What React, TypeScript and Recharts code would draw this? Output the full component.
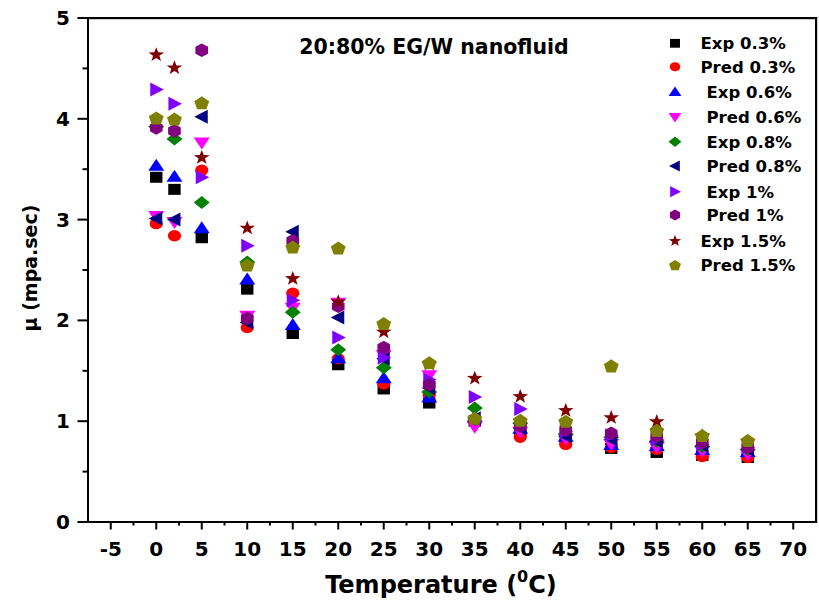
import React from 'react';
import { ScatterChart, Scatter, XAxis, YAxis } from 'recharts';

const temps = [0, 2, 5, 10, 15, 20, 25, 30, 35, 40, 45, 50, 55, 60, 65];

const exp03 = [3.42, 3.30, 2.82, 2.31, 1.87, 1.56, 1.32, 1.18, 1.00, 0.90, 0.82, 0.73, 0.69, 0.66, 0.64];
const pred03 = [2.96, 2.84, 3.49, 1.93, 2.27, 1.62, 1.37, 1.26, 1.00, 0.84, 0.77, 0.74, 0.72, 0.65, 0.64];
const exp06 = [3.54, 3.43, 2.92, 2.41, 1.96, 1.63, 1.43, 1.24, 1.05, 0.93, 0.85, 0.77, 0.76, 0.72, 0.70];
const pred06 = [3.03, 2.97, 3.76, 2.04, 2.12, 2.17, 1.65, 1.45, 0.94, 0.89, 0.82, 0.77, 0.74, 0.70, 0.67];
const exp08 = [3.92, 3.80, 3.17, 2.58, 2.08, 1.71, 1.53, 1.29, 1.13, 0.98, 0.87, 0.84, 0.80, 0.75, 0.72];
const pred08 = [3.01, 3.00, 4.02, 1.98, 2.88, 2.03, 1.62, 1.33, 1.03, 0.93, 0.85, 0.82, 0.80, 0.76, 0.72];
const exp1 = [4.29, 4.15, 3.42, 2.74, 2.20, 1.83, 1.63, 1.41, 1.24, 1.12, 0.90, 0.86, 0.82, 0.77, 0.74];
const pred1 = [3.91, 3.88, 4.68, 2.02, 2.79, 2.14, 1.73, 1.36, 1.02, 0.95, 0.91, 0.88, 0.85, 0.79, 0.74];
const exp15 = [4.64, 4.51, 3.62, 2.92, 2.42, 2.19, 1.89, 1.57, 1.43, 1.25, 1.11, 1.04, 1.00, 0.86, 0.80];
const pred15 = [4.01, 4.00, 4.16, 2.55, 2.73, 2.72, 1.97, 1.58, 1.03, 1.01, 1.00, 1.55, 0.91, 0.86, 0.81];

const xTicks = [-5, -2.5, 0, 2.5, 5, 7.5, 10, 12.5, 15, 17.5, 20, 22.5, 25, 27.5, 30, 32.5, 35, 37.5, 40, 42.5, 45, 47.5, 50, 52.5, 55, 57.5, 60, 62.5, 65, 67.5, 70];
const yTicks = [0, 0.5, 1, 1.5, 2, 2.5, 3, 3.5, 4, 4.5, 5];

type Kind = 'square' | 'circle' | 'up' | 'down' | 'diamond' | 'left' | 'right' | 'hex' | 'star' | 'pent';

const seriesDefs: { name: string; label: string; kind: Kind; color: string; values: number[] }[] = [
  { name: 'Exp 0.3%', label: 'Exp 0.3%', kind: 'square', color: '#000000', values: exp03 },
  { name: 'Pred 0.3%', label: 'Pred 0.3%', kind: 'circle', color: '#ff0000', values: pred03 },
  { name: 'Exp 0.6%', label: ' Exp 0.6%', kind: 'up', color: '#0000ff', values: exp06 },
  { name: 'Pred 0.6%', label: ' Pred 0.6%', kind: 'down', color: '#ff00ff', values: pred06 },
  { name: 'Exp 0.8%', label: ' Exp 0.8%', kind: 'diamond', color: '#008000', values: exp08 },
  { name: 'Pred 0.8%', label: ' Pred 0.8%', kind: 'left', color: '#000080', values: pred08 },
  { name: 'Exp 1%', label: ' Exp 1%', kind: 'right', color: '#8000ff', values: exp1 },
  { name: 'Pred 1%', label: ' Pred 1%', kind: 'hex', color: '#800080', values: pred1 },
  { name: 'Exp 1.5%', label: 'Exp 1.5%', kind: 'star', color: '#800000', values: exp15 },
  { name: 'Pred 1.5%', label: 'Pred 1.5%', kind: 'pent', color: '#808000', values: pred15 },
];

const legendRowsY = [43.3, 66.7, 91.7, 117.3, 141.7, 166, 191.7, 215, 240.7, 265];

const FONT = '"DejaVu Sans", Arial, sans-serif';

function poly(pts: [number, number][]) {
  return pts.map((p) => `${p[0].toFixed(2)},${p[1].toFixed(2)}`).join(' ');
}

function Marker({ kind, cx, cy, color, s = 1 }: { kind: Kind; cx: number; cy: number; color: string; s?: number }) {
  if (cx == null || cy == null) return null;
  switch (kind) {
    case 'square':
      return <rect x={cx - 6.2 * s} y={cy - 5.5 * s} width={12.4 * s} height={11 * s} fill={color} />;
    case 'circle':
      return <ellipse cx={cx} cy={cy} rx={6.6 * s} ry={5.7 * s} fill={color} />;
    case 'up':
      return <polygon points={poly([[cx, cy - 6.5 * s], [cx + 8 * s, cy + 5.5 * s], [cx - 8 * s, cy + 5.5 * s]])} fill={color} />;
    case 'down':
      return <polygon points={poly([[cx, cy + 6.5 * s], [cx + 8 * s, cy - 5.5 * s], [cx - 8 * s, cy - 5.5 * s]])} fill={color} />;
    case 'diamond':
      return <polygon points={poly([[cx, cy - 6.5 * s], [cx + 8 * s, cy], [cx, cy + 6.5 * s], [cx - 8 * s, cy]])} fill={color} />;
    case 'left':
      return <polygon points={poly([[cx - 7.5 * s, cy], [cx + 6 * s, cy - 7 * s], [cx + 6 * s, cy + 7 * s]])} fill={color} />;
    case 'right':
      return <polygon points={poly([[cx + 7.5 * s, cy], [cx - 6 * s, cy - 7 * s], [cx - 6 * s, cy + 7 * s]])} fill={color} />;
    case 'hex': {
      const pts: [number, number][] = [];
      for (let i = 0; i < 6; i++) {
        const a = ((-90 + 60 * i) * Math.PI) / 180;
        pts.push([cx + 7.3 * s * Math.cos(a), cy + 6.8 * s * Math.sin(a)]);
      }
      return <polygon points={poly(pts)} fill={color} />;
    }
    case 'star': {
      const pts: [number, number][] = [];
      for (let i = 0; i < 10; i++) {
        const a = ((-90 + 36 * i) * Math.PI) / 180;
        const r = i % 2 === 0 ? 7.6 : 3.1;
        pts.push([cx + r * s * 1.08 * Math.cos(a), cy + 0.5 * s + r * s * Math.sin(a)]);
      }
      return <polygon points={poly(pts)} fill={color} />;
    }
    case 'pent': {
      const pts: [number, number][] = [];
      for (let i = 0; i < 5; i++) {
        const a = ((-90 + 72 * i) * Math.PI) / 180;
        pts.push([cx + 7.8 * s * Math.cos(a), cy + 0.8 * s + 7.2 * s * Math.sin(a)]);
      }
      return <polygon points={poly(pts)} fill={color} />;
    }
  }
  return null;
}

const XTick = (props: any) => {
  const { x, y, payload } = props;
  const v = payload.value as number;
  const major = Math.abs(v % 5) < 1e-6;
  return (
    <g>
      <line x1={x} x2={x} y1={y} y2={y + (major ? 7.5 : 3.5)} stroke="#000" strokeWidth={2} />
      {major && (
        <text x={x} y={y + 34} textAnchor="middle" fontFamily={FONT} fontWeight="bold" fontSize={20} fill="#000">
          {String(v)}
        </text>
      )}
    </g>
  );
};

const YTick = (props: any) => {
  const { x, y, payload } = props;
  const v = payload.value as number;
  const major = Math.abs(v % 1) < 1e-6;
  return (
    <g>
      <line x1={x - (major ? 10.5 : 5.5)} x2={x} y1={y} y2={y} stroke="#000" strokeWidth={2} />
      {major && (
        <text x={x - 18} y={y + 7} textAnchor="end" fontFamily={FONT} fontWeight="bold" fontSize={20} fill="#000">
          {String(v)}
        </text>
      )}
    </g>
  );
};

export default function App() {
  return (
    <div style={{ position: 'absolute', left: 0, top: 0, width: 819, height: 603, background: '#fff' }}>
      <ScatterChart width={819} height={603} margin={{ top: 18, right: 3, bottom: 0, left: 0 }}>
        <XAxis
          xAxisId="b"
          type="number"
          dataKey="x"
          domain={[-7.5, 72.5]}
          ticks={xTicks}
          interval={0}
          height={81}
          tickSize={0}
          tickMargin={0}
          tickLine={false}
          axisLine={{ stroke: '#000', strokeWidth: 2 }}
          tick={<XTick />}
          allowDataOverflow
        />
        <YAxis
          yAxisId="l"
          type="number"
          dataKey="y"
          domain={[0, 5]}
          ticks={yTicks}
          interval={0}
          width={88}
          tickSize={0}
          tickMargin={0}
          tickLine={false}
          axisLine={{ stroke: '#000', strokeWidth: 2 }}
          tick={<YTick />}
          allowDataOverflow
        />
        {seriesDefs.map((sd) => (
          <Scatter
            key={sd.name}
            name={sd.name}
            xAxisId="b"
            yAxisId="l"
            data={temps.map((t, i) => ({ x: t, y: sd.values[i] }))}
            fill={sd.color}
            isAnimationActive={false}
            shape={(p: any) => <Marker kind={sd.kind} cx={p.cx} cy={p.cy} color={sd.color} />}
          />
        ))}
      </ScatterChart>
      <svg width={819} height={603} style={{ position: 'absolute', left: 0, top: 0, pointerEvents: 'none' }}>
        <rect x={87} y={17} width={730} height={2.2} fill="#000" />
        <rect x={815} y={17} width={2.2} height={506} fill="#000" />
        <text x={434} y={54} textAnchor="middle" fontFamily={FONT} fontWeight="bold" fontSize={20.5} fill="#000">
          20:80% EG/W nanofluid
        </text>
        {seriesDefs.map((sd, i) => (
          <g key={sd.name}>
            <Marker kind={sd.kind} cx={675} cy={legendRowsY[i]} color={sd.color} s={0.8} />
            <text
              x={sd.label.startsWith(' ') ? 706.5 : 700.5}
              y={legendRowsY[i] + 6}
              fontFamily={FONT}
              fontWeight="bold"
              fontSize={16.5}
              fill="#000"
            >
              {sd.label.trim()}
            </text>
          </g>
        ))}
        <text
          transform="translate(37,268) rotate(-90)"
          textAnchor="middle"
          fontFamily={FONT}
          fontWeight="bold"
          fontSize={19}
          fill="#000"
        >
          μ (mpa.sec)
        </text>
        <text x={441} y={593} textAnchor="middle" fontFamily={FONT} fontWeight="bold" fontSize={24} fill="#000">
          Temperature (<tspan fontSize={16} dy={-11}>0</tspan>
          <tspan dy={11}>C)</tspan>
        </text>
      </svg>
    </div>
  );
}
